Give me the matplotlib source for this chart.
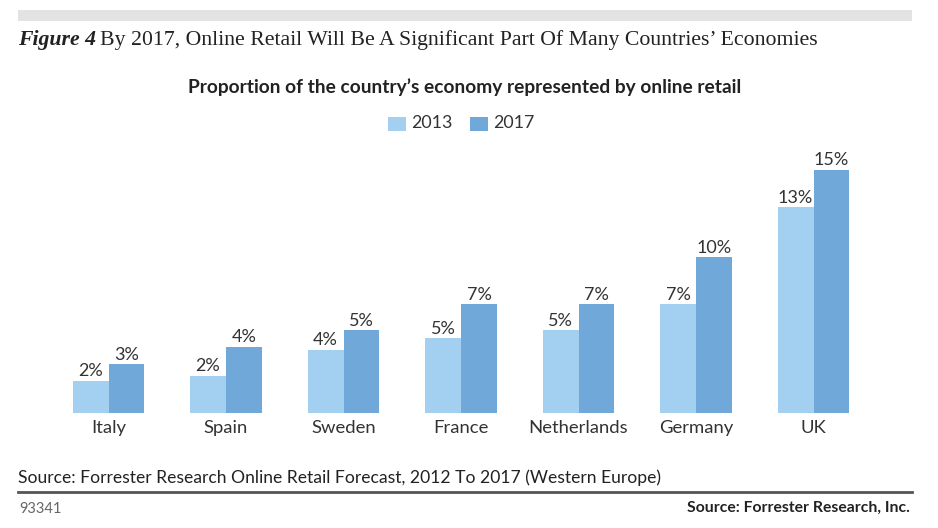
import matplotlib
matplotlib.use("Agg")
import matplotlib.pyplot as plt
from matplotlib.patches import Rectangle

# ======= Data =======
countries = ["Italy", "Spain", "Sweden", "France", "Netherlands", "Germany", "UK"]
share_2013 = [2.0, 2.3, 3.9, 4.6, 5.1, 6.7, 12.7]
share_2017 = [3.0, 4.1, 5.1, 6.7, 6.7, 9.6, 15.0]
years = ["2013", "2017"]

color_2013 = "#a3cff1"
color_2017 = "#6fa8d9"
text_color = "#333333"
font_name = "Lato"

W, H = 938, 528
fig = plt.figure(figsize=(W / 100, H / 100), dpi=100)
fig.patch.set_facecolor("white")


def fx(px):
    return px / W


def fy(py):
    # pixel row from top -> figure fraction
    return 1 - py / H


# axes placed so that bars sit on the same pixels as the reference
ax = fig.add_axes([fx(49.75), fy(413), fx(822.5), (413 - 146) / H])
bar_w = 0.306
x = list(range(len(countries)))
b1 = ax.bar([i - bar_w / 2 for i in x], share_2013, width=bar_w, color=color_2013, linewidth=0)
b2 = ax.bar([i + bar_w / 2 for i in x], share_2017, width=bar_w, color=color_2017, linewidth=0)
ax.set_xlim(-0.5, len(countries) - 0.5)
ax.set_ylim(0, 267 / 16.2)

for bars, vals in ((b1, share_2013), (b2, share_2017)):
    for rect, v in zip(bars, vals):
        ax.text(rect.get_x() + rect.get_width() / 2, v + 0.1, f"{v:.0f}%",
                ha="center", va="bottom", fontsize=13, color=text_color, family=font_name)

ax.set_xticks(x)
ax.set_xticklabels(countries, fontsize=13.3, color=text_color, family=font_name)
ax.tick_params(axis="x", length=0, pad=5)
ax.set_yticks([])
for s in ax.spines.values():
    s.set_visible(False)

# top grey band
fig.patches.append(Rectangle((fx(18), fy(21)), fx(894), 11 / H, transform=fig.transFigure,
                             color="#e3e3e3", linewidth=0))

# figure caption
fig.text(fx(18), fy(40), "Figure 4", fontsize=15.7, style="italic", weight="bold",
         family="Liberation Serif", color="#222222", va="center")
fig.text(fx(100), fy(40), "By 2017, Online Retail Will Be A Significant Part Of Many Countries\u2019 Economies",
         fontsize=15.7, family="Liberation Serif", color="#222222", va="center")

# chart title
fig.text(fx(465), fy(87), "Proportion of the country\u2019s economy represented by online retail",
         fontsize=13.8, weight="bold", family=font_name, color="#222222", ha="center", va="center")

# legend
for px, col, lab in ((388, color_2013, years[0]), (470, color_2017, years[1])):
    fig.patches.append(Rectangle((fx(px), fy(131)), fx(18), 14 / H, transform=fig.transFigure,
                                 color=col, linewidth=0))
    fig.text(fx(px + 23), fy(123), lab, fontsize=12.8, family=font_name, color=text_color, va="center")

# source and footer
fig.text(fx(18), fy(478), "Source: Forrester Research Online Retail Forecast, 2012 To 2017 (Western Europe)",
         fontsize=12.6, family=font_name, color="#222222", va="center")
fig.add_artist(plt.Line2D([fx(18), fx(912)], [fy(492), fy(492)], transform=fig.transFigure,
                          color="#555555", linewidth=2))
fig.text(fx(19), fy(509), "93341", fontsize=10.5, family=font_name, color="#666666", va="center")
fig.text(fx(910), fy(508), "Source: Forrester Research, Inc.", fontsize=11.3, weight="bold",
         family=font_name, color="#222222", va="center", ha="right")

fig.savefig("out.png", dpi=100)
